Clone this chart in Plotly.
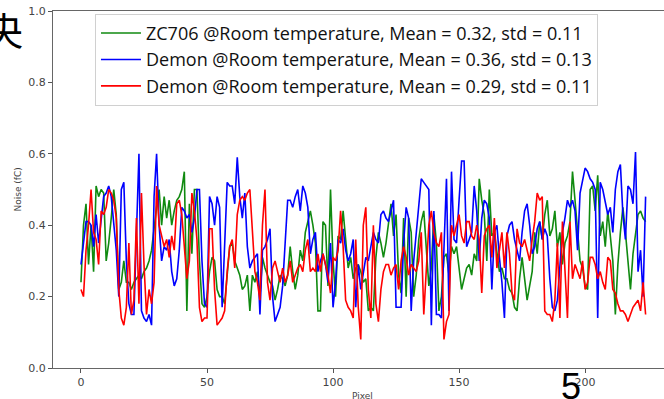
import plotly.graph_objects as go

pixels = list(range(225))

zc706_room = [
    0.24, 0.40, 0.46, 0.29, 0.40, 0.27, 0.51, 0.48, 0.50, 0.49,
    0.30, 0.35, 0.42, 0.50, 0.43, 0.22, 0.24, 0.30, 0.24, 0.24,
    0.22, 0.24, 0.25, 0.26, 0.25, 0.27, 0.28, 0.30, 0.33, 0.40,
    0.45, 0.50, 0.40, 0.48, 0.42, 0.47, 0.40, 0.44, 0.47, 0.48,
    0.50, 0.55, 0.16, 0.46, 0.32, 0.50, 0.50, 0.30, 0.18, 0.17,
    0.20, 0.27, 0.31, 0.30, 0.22, 0.20, 0.20, 0.18, 0.26, 0.34,
    0.35, 0.30, 0.28, 0.26, 0.22, 0.23, 0.26, 0.16, 0.26, 0.24,
    0.27, 0.20, 0.31, 0.28, 0.26, 0.24, 0.23, 0.19, 0.22, 0.26,
    0.25, 0.23, 0.26, 0.34, 0.27, 0.22, 0.26, 0.33, 0.30, 0.38,
    0.41, 0.44, 0.40, 0.35, 0.16, 0.16, 0.41, 0.40, 0.23, 0.50,
    0.30, 0.20, 0.37, 0.36, 0.44, 0.36, 0.28, 0.31, 0.25, 0.28,
    0.29, 0.27, 0.24, 0.25, 0.16, 0.17, 0.16, 0.31, 0.38, 0.35,
    0.31, 0.35, 0.40, 0.46, 0.37, 0.43, 0.26, 0.21, 0.42, 0.20,
    0.42, 0.38, 0.20, 0.26, 0.36, 0.41, 0.44, 0.34, 0.23, 0.28,
    0.43, 0.35, 0.16, 0.20, 0.31, 0.32, 0.26, 0.34, 0.32, 0.34,
    0.27, 0.22, 0.25, 0.28, 0.29, 0.26, 0.32, 0.30, 0.53, 0.47,
    0.43, 0.30, 0.50, 0.37, 0.38, 0.32, 0.27, 0.28, 0.25, 0.25,
    0.22, 0.21, 0.17, 0.16, 0.25, 0.31, 0.25, 0.19, 0.23, 0.27,
    0.38, 0.32, 0.41, 0.36, 0.43, 0.47, 0.37, 0.39, 0.44, 0.34,
    0.38, 0.29, 0.35, 0.37, 0.41, 0.55, 0.47, 0.39, 0.30, 0.28,
    0.23, 0.22, 0.50, 0.51, 0.44, 0.54, 0.37, 0.41, 0.34, 0.44,
    0.37, 0.30, 0.15, 0.29, 0.38, 0.45, 0.38, 0.29, 0.22, 0.32,
    0.38, 0.43, 0.44, 0.42, 0.41,
]

demon_room_a = [
    0.29, 0.35, 0.41, 0.41, 0.40, 0.34, 0.43, 0.35, 0.42, 0.48,
    0.49, 0.51, 0.48, 0.40, 0.33, 0.20, 0.50, 0.52, 0.30, 0.18,
    0.15, 0.15, 0.40, 0.60, 0.16, 0.14, 0.13, 0.15, 0.12, 0.48,
    0.60, 0.40, 0.30, 0.34, 0.33, 0.36, 0.27, 0.23, 0.25, 0.33,
    0.45, 0.44, 0.42, 0.43, 0.38, 0.42, 0.50, 0.50, 0.30, 0.18,
    0.17, 0.48, 0.46, 0.40, 0.48, 0.45, 0.17, 0.36, 0.52, 0.51,
    0.51, 0.46, 0.59, 0.48, 0.42, 0.49, 0.34, 0.28, 0.30, 0.31,
    0.32, 0.15, 0.33, 0.34, 0.36, 0.39, 0.20, 0.13, 0.15, 0.17,
    0.23, 0.36, 0.47, 0.47, 0.45, 0.48, 0.50, 0.44, 0.51, 0.49,
    0.45, 0.32, 0.36, 0.38, 0.27, 0.30, 0.32, 0.29, 0.24, 0.35,
    0.17, 0.24, 0.36, 0.35, 0.39, 0.33, 0.30, 0.32, 0.36, 0.17,
    0.29, 0.22, 0.27, 0.31, 0.30, 0.34, 0.38, 0.36, 0.35, 0.43,
    0.44, 0.42, 0.41, 0.44, 0.47, 0.17, 0.17, 0.17, 0.35, 0.45,
    0.42, 0.16, 0.30, 0.38, 0.46, 0.53, 0.52, 0.51, 0.50, 0.12,
    0.44, 0.15, 0.15, 0.14, 0.33, 0.53, 0.16, 0.55, 0.36, 0.35,
    0.47, 0.58, 0.58, 0.34, 0.36, 0.38, 0.51, 0.44, 0.30, 0.42,
    0.47, 0.46, 0.42, 0.22, 0.38, 0.40, 0.31, 0.24, 0.14, 0.37,
    0.40, 0.41, 0.36, 0.33, 0.30, 0.38, 0.44, 0.46, 0.40, 0.32,
    0.34, 0.39, 0.41, 0.36, 0.39, 0.37, 0.25, 0.17, 0.16, 0.19,
    0.30, 0.38, 0.42, 0.47, 0.45, 0.47, 0.44, 0.33, 0.49, 0.53,
    0.56, 0.55, 0.53, 0.52, 0.50, 0.14, 0.52, 0.50, 0.46, 0.43,
    0.45, 0.38, 0.50, 0.55, 0.57, 0.43, 0.36, 0.51, 0.50, 0.46,
    0.605, 0.27, 0.33, 0.20, 0.48,
]

demon_room_b = [
    0.22, 0.20, 0.33, 0.40, 0.50, 0.38, 0.36, 0.29, 0.44, 0.43,
    0.45, 0.50, 0.49, 0.47, 0.42, 0.22, 0.14, 0.12, 0.17, 0.35,
    0.15, 0.19, 0.42, 0.18, 0.49, 0.29, 0.15, 0.22, 0.18, 0.24,
    0.51, 0.40, 0.37, 0.34, 0.36, 0.31, 0.37, 0.33, 0.46, 0.47,
    0.43, 0.34, 0.25, 0.30, 0.49, 0.44, 0.36, 0.17, 0.13, 0.14,
    0.14, 0.39, 0.39, 0.22, 0.12, 0.13, 0.14, 0.16, 0.27, 0.34,
    0.36, 0.28, 0.43, 0.47, 0.48, 0.47, 0.49, 0.50, 0.38, 0.27,
    0.24, 0.19, 0.40, 0.50, 0.24, 0.19, 0.28, 0.30, 0.27, 0.24,
    0.28, 0.24, 0.26, 0.30, 0.24, 0.26, 0.28, 0.29, 0.27, 0.33,
    0.36, 0.27, 0.28, 0.27, 0.32, 0.27, 0.32, 0.29, 0.26, 0.21,
    0.31, 0.30, 0.33, 0.44, 0.34, 0.19, 0.17, 0.16, 0.14, 0.36,
    0.17, 0.08, 0.40, 0.45, 0.22, 0.14, 0.40, 0.18, 0.13, 0.22,
    0.27, 0.29, 0.29, 0.26, 0.28, 0.29, 0.22, 0.30, 0.34, 0.31,
    0.26, 0.29, 0.28, 0.27, 0.30, 0.38, 0.15, 0.27, 0.40, 0.44,
    0.38, 0.35, 0.34, 0.38, 0.08, 0.13, 0.15, 0.40, 0.37, 0.40,
    0.43, 0.37, 0.35, 0.41, 0.41, 0.37, 0.36, 0.40, 0.36, 0.21,
    0.37, 0.39, 0.40, 0.31, 0.42, 0.28, 0.33, 0.38, 0.28, 0.38,
    0.32, 0.21, 0.19, 0.39, 0.35, 0.34, 0.36, 0.33, 0.30, 0.36,
    0.41, 0.49, 0.47, 0.48, 0.16, 0.15, 0.15, 0.13, 0.19, 0.35,
    0.14, 0.41, 0.28, 0.14, 0.41, 0.25, 0.29, 0.27, 0.25, 0.30,
    0.22, 0.24, 0.31, 0.31, 0.29, 0.25, 0.27, 0.24, 0.22, 0.31,
    0.30, 0.22, 0.21, 0.18, 0.16, 0.16, 0.15, 0.13, 0.15, 0.17,
    0.18, 0.19, 0.16, 0.24, 0.15,
]

series_names = [
    "ZC706 @Room temperature, Mean = 0.32, std = 0.11",
    "Demon @Room temperature, Mean = 0.36, std = 0.13",
    "Demon @Room temperature, Mean = 0.29, std = 0.11",
]
series_colors = ["#108a10", "#0000ff", "#ff0000"]
y_ticks = [0.0, 0.2, 0.4, 0.6, 0.8, 1.0]
x_ticks = [0, 50, 100, 150, 200]

fig = go.Figure()
for name, vals, col in zip(series_names, [zc706_room, demon_room_a, demon_room_b], series_colors):
    fig.add_trace(go.Scatter(x=pixels, y=vals, mode="lines", name=name,
                             line=dict(color=col, width=1.6)))

tick_font = dict(family="DejaVu Sans", size=11, color="#444444")
fig.update_layout(
    width=664, height=399,
    margin=dict(l=53, r=0, t=11, b=31),
    paper_bgcolor="white", plot_bgcolor="white",
    showlegend=True,
    legend=dict(x=0.0687, y=0.992, xanchor="left", yanchor="top",
                font=dict(family="Open Sans", size=18, color="#111111"),
                bgcolor="white", bordercolor="#d0d0d0", borderwidth=1,
                itemwidth=40),
    xaxis=dict(range=[-11.1, 231.3], tickvals=x_ticks, ticks="outside", ticklen=4,
               tickcolor="#555555", showline=True, linecolor="#666666", linewidth=1,
               mirror=True, showgrid=False, zeroline=False, tickfont=tick_font,
               automargin=False),
    yaxis=dict(range=[0, 1.0], tickvals=y_ticks, tickformat=".1f", ticks="outside",
               ticklen=4, tickcolor="#555555", showline=True, linecolor="#666666",
               linewidth=1, showgrid=False, zeroline=False, tickfont=tick_font,
               automargin=False),
    annotations=[
        dict(text="Noise (fC)", xref="paper", yref="paper", x=-0.0589, y=0.5,
             textangle=-90, showarrow=False, xanchor="center", yanchor="middle",
             font=dict(family="DejaVu Sans", size=9, color="#444444")),
        dict(text="Pixel", xref="paper", yref="paper", x=0.507, y=-0.0588,
             showarrow=False, xanchor="center", yanchor="top",
             font=dict(family="DejaVu Sans", size=9, color="#444444")),
        dict(text="央", xref="paper", yref="paper", x=(25 - 53) / 611, y=(368 - 28) / 357,
             showarrow=False, xanchor="right", yanchor="middle",
             font=dict(family="Noto Sans CJK SC", size=38, color="black")),
        dict(text="5", xref="paper", yref="paper", x=(571 - 53) / 611, y=(368 - 386) / 357,
             showarrow=False, xanchor="center", yanchor="middle",
             font=dict(family="Liberation Sans", size=36, color="black")),
    ],
)

fig.write_html("out.html", config={"displayModeBar": False},
               post_script="document.body.style.margin='0';document.body.style.overflow='hidden';")
